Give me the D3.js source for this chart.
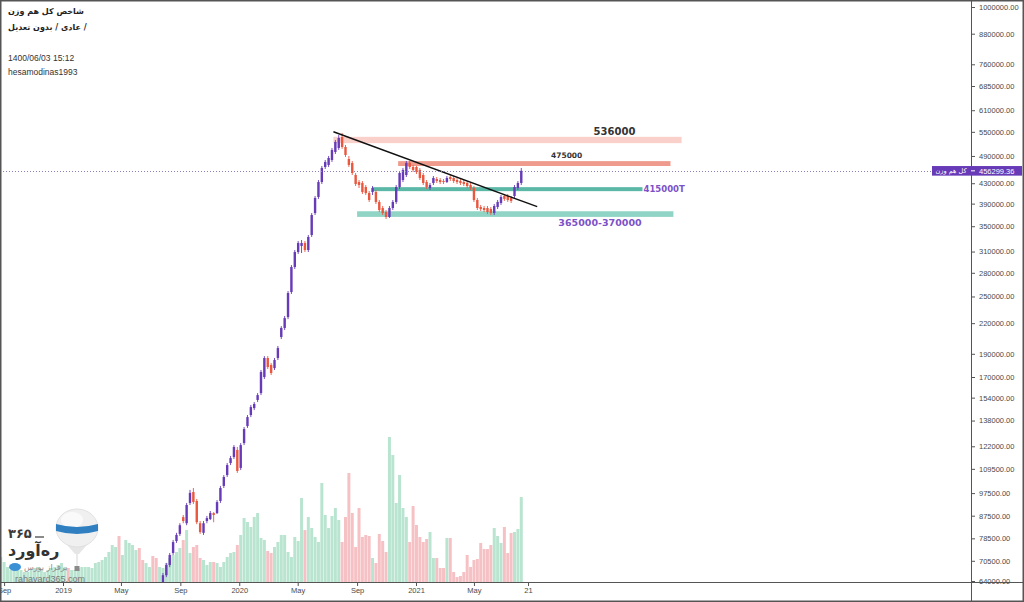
<!DOCTYPE html>
<html>
<head>
<meta charset="utf-8">
<script src="https://cdn.jsdelivr.net/npm/d3@7"></script>
<style>
  body { margin: 0; background: #fff; }
  svg { display: block; }
</style>
</head>
<body>
<div id="chart"></div>
<script>
"use strict";

// weekly candles, in thousand points
var candleStart = "2019-07-27";
var opens = [61.5,65.8,69.1,73.2,77.5,80.2,86.9,84.4,93.0,98.0,93.9,84.4,80.6,85.3,86.1,88.6,88.6,93.9,100.9,106.3,
  112.6,115.9,119.9,110.0,123.9,134.4,141.7,146.5,152.3,157.4,170.0,186.2,180.1,177.4,186.2,205.9,215.0,226.5,255.4,287.9,
  309.3,318.4,323.0,312.3,335.6,372.8,402.6,432.5,464.8,469.3,480.6,499.4,509.1,536.6,511.5,482.9,473.8,447.3,432.5,430.5,
  422.3,410.3,412.3,412.3,393.1,381.9,374.6,365.8,381.9,393.1,422.3,436.7,447.3,473.8,464.8,464.8,458.2,447.3,432.5,420.3,
  430.5,438.8,436.7,434.6,432.5,443.0,440.9,436.7,434.6,432.5,430.5,426.3,420.3,396.8,383.7,381.9,381.9,380.0,372.8,383.7,
  391.2,404.5,404.5,400.7,404.5,420.3,430.5];
var highs = [66.5,69.8,73.2,77.9,80.6,84.4,87.8,93.0,99.0,99.9,94.8,85.3,85.3,87.4,89.5,89.0,94.3,100.9,106.3,112.6,
  116.5,122.7,121.6,123.9,133.8,141.7,148.7,150.8,157.4,175.8,187.9,187.9,181.8,186.2,197.2,216.9,227.7,256.6,290.6,312.3,
  326.1,327.6,326.1,335.6,372.8,404.5,436.7,467.0,480.6,489.9,509.1,528.9,541.8,547.0,516.4,489.9,478.3,451.6,436.7,434.6,
  426.3,414.3,424.3,416.3,396.8,385.6,378.2,385.6,396.8,426.3,456.0,462.6,478.3,478.3,469.3,467.0,462.6,451.6,436.7,430.5,
  445.1,443.0,440.9,438.8,445.1,447.3,445.1,440.9,438.8,436.7,434.6,430.5,424.3,400.7,387.5,385.6,385.6,383.7,389.3,396.8,
  406.4,408.4,408.4,404.5,426.3,434.6,462.6];
var lows = [60.5,65.2,68.4,72.5,76.8,79.4,84.4,83.6,92.1,92.5,84.0,80.2,79.8,84.4,85.7,84.8,88.2,93.0,99.9,105.3,
  111.5,114.8,107.4,108.9,122.7,133.2,140.3,145.1,150.8,155.9,168.4,176.6,171.6,175.8,184.4,203.9,212.9,224.3,253.0,285.2,
  306.4,307.8,309.3,309.3,332.4,369.3,398.8,428.4,460.4,464.8,476.1,494.6,504.2,507.0,487.6,464.8,447.3,424.3,420.3,408.4,
  406.4,393.1,406.4,389.3,374.6,369.3,362.3,364.1,378.2,389.3,418.3,432.5,443.0,460.4,453.8,449.5,436.7,426.3,418.3,416.3,
  426.3,430.5,428.4,428.4,430.5,434.6,430.5,428.4,426.3,424.3,420.3,416.3,393.1,378.2,376.4,374.6,371.0,369.3,369.3,380.0,
  387.5,395.0,393.1,391.2,400.7,416.3,426.3];
var closes = [65.8,69.1,72.5,77.1,79.8,83.6,85.3,92.1,97.6,93.4,84.8,80.9,84.4,86.5,88.6,87.8,93.4,99.9,105.3,111.5,
  115.3,121.6,108.4,122.7,132.5,140.3,147.2,149.4,155.9,174.1,186.2,178.3,173.3,184.4,195.3,215.0,225.4,254.2,287.9,309.3,
  323.0,323.0,312.3,332.4,369.3,400.7,432.5,462.6,476.1,485.3,504.2,523.9,534.0,511.5,492.3,469.3,451.6,428.4,426.3,412.3,
  410.3,396.8,420.3,393.1,378.2,372.8,365.8,381.9,393.1,422.3,451.6,458.2,473.8,464.8,458.2,453.8,440.9,430.5,422.3,426.3,
  440.9,434.6,432.5,432.5,440.9,438.8,434.6,432.5,430.5,428.4,424.3,420.3,396.8,381.9,380.0,378.2,374.6,372.8,385.6,393.1,
  402.6,398.8,396.8,395.0,422.3,430.5,456.3];

// weekly volume (relative units)
var volumeStart = "2018-08-25";
var volumes = [25,20,15,12,12,14,12,10,10,12, 14,15,12,10,12,14,15,17,19,15,
  14,12,12,14,15,15,15,14,19,20, 22,25,30,37,35,46,27,42,39,37,
  32,34,22,19,15,26,24,15,14,19, 24,27,30,34,42,52,29,35,37,24,
  22,17,20,20,19,15,20,25,29,30, 37,47,64,60,55,65,69,44,42,31,
  29,35,40,47,47,30,25,45,41,84, 52,65,54,45,40,99,67,54,66,74,
  62,40,65,109,69,35,74,45,47,46, 24,19,48,41,30,145,127,79,107,74,
  65,40,76,57,45,40,43,50,24,24, 14,14,44,44,10,5,6,10,27,15,
  22,23,39,33,33,37,54,46,39,55, 29,49,50,53,85];
var earlyDownWeeks = [20, 35, 41, 42, 45, 46];

var lastPrice = 456299.36;
var priceTicks = [1000000, 880000, 760000, 685000, 610000, 550000, 490000, 430000, 390000, 350000, 310000,
  280000, 250000, 220000, 190000, 170000, 154000, 138000, 122000, 109500, 97500, 87500, 78500, 70500, 64000];
var timeTicks = ["2018-09-01", "2019-01-01", "2019-05-01", "2019-09-01", "2020-01-01", "2020-05-01",
  "2020-09-01", "2021-01-01", "2021-05-01", "2021-08-21"];
var timeLabels = ["Sep", "2019", "May", "Sep", "2020", "May", "Sep", "2021", "May", "21"];

var bandNames = ["536000", "475000", "415000T", "365000-370000"];
var bandLow = [521000, 467000, 414000, 366000];
var bandHigh = [537000, 478000, 422000, 376000];
var bandFrom = ["2020-07-14", "2020-11-25", "2020-10-02", "2020-09-01"];
var bandTo = ["2022-07-05", "2022-06-12", "2022-04-15", "2022-06-18"];
var bandLabelAt = ["2022-02-16", "2021-11-09", "2022-04-15", "2022-01-17"];
var bandFill = ["#f9d0ca", "#ee9a8c", "#5cb8a6", "#8fd4c5"];

var trendDates = ["2020-07-14", "2021-09-09"];
var trendValues = [550300, 384300];

var width = 1024, height = 602;
var plotRight = 971, plotBottom = 582;
var upColor = "#673ab7", downColor = "#e9573f";
var volUp = "#b9e4d0", volDown = "#f6c1c4";
var axisFont = "'Liberation Sans', Arial, sans-serif";
var faFont = "Tahoma, 'DejaVu Sans', sans-serif";

var parse = d3.utcParse("%Y-%m-%d");

var x = d3.scaleUtc()
  .domain([parse("2019-01-01"), parse("2021-01-01")])
  .range([63, 416]);
var y = d3.scaleLog()
  .domain([64000, 1000000])
  .range([581, 7]);

var c0 = parse(candleStart);
var candles = opens.map(function(o, i) {
  return {
    date: d3.utcDay.offset(c0, 7 * i),
    open: o * 1000, high: highs[i] * 1000, low: lows[i] * 1000, close: closes[i] * 1000
  };
});
var v0 = parse(volumeStart);
var candleOffset = d3.utcDay.count(v0, c0) / 7;
var vols = volumes.map(function(v, i) {
  var c = candles[i - candleOffset];
  var up = c ? c.close >= c.open : earlyDownWeeks.indexOf(i) < 0;
  return { date: d3.utcDay.offset(v0, 7 * i), value: v, up: up };
});
var weekPx = x(d3.utcDay.offset(c0, 7)) - x(c0);

var yv = d3.scaleLinear()
  .domain([0, d3.max(volumes)])
  .range([plotBottom, 437]);

var svg = d3.select("#chart").append("svg")
  .attr("width", width)
  .attr("height", height)
  .attr("viewBox", [0, 0, width, height]);

svg.append("rect").attr("width", width).attr("height", height).attr("fill", "#fff");

svg.append("clipPath").attr("id", "plot")
  .append("rect").attr("x", 0).attr("y", 0).attr("width", plotRight).attr("height", plotBottom);

var plot = svg.append("g").attr("clip-path", "url(#plot)");

// volume
plot.append("g")
  .selectAll("rect")
  .data(vols)
  .join("rect")
  .attr("x", d => x(d.date) - weekPx / 2 + 0.2)
  .attr("width", weekPx - 0.4)
  .attr("y", d => yv(d.value))
  .attr("height", d => plotBottom - yv(d.value))
  .attr("fill", d => d.up ? volUp : volDown);

// logo
var logo = plot.append("g");
logo.append("path")
  .attr("d", "M61,538 L75,554 L79,554 L93,538")
  .attr("fill", "#e6e6e6");
logo.append("ellipse")
  .attr("cx", 77).attr("cy", 528).attr("rx", 21).attr("ry", 19)
  .attr("fill", "#f0f0f0").attr("stroke", "#dcdcdc").attr("stroke-width", 0.8);
logo.append("ellipse")
  .attr("cx", 72).attr("cy", 520).attr("rx", 11).attr("ry", 8)
  .attr("fill", "#fafafa");
logo.append("path")
  .attr("d", "M56,524 Q77,530 98,524 L98,531 Q77,537 56,531 Z")
  .attr("fill", "#2f7fc1");
logo.append("line")
  .attr("x1", 77).attr("y1", 554).attr("x2", 77).attr("y2", 566)
  .attr("stroke", "#bbb").attr("stroke-width", 0.6);
logo.append("rect")
  .attr("x", 74.5).attr("y", 566).attr("width", 5).attr("height", 5)
  .attr("fill", "#8a8a8a");
logo.append("text")
  .attr("x", 8).attr("y", 538)
  .attr("font-family", faFont).attr("font-weight", "bold").attr("font-size", 13)
  .attr("fill", "#3b3b3b")
  .text("۳۶۵");
logo.append("line")
  .attr("x1", 35).attr("y1", 537).attr("x2", 44).attr("y2", 537)
  .attr("stroke", "#3b3b3b").attr("stroke-width", 1.2);
logo.append("text")
  .attr("x", 8).attr("y", 556)
  .attr("font-family", faFont).attr("font-weight", "bold").attr("font-size", 16)
  .attr("fill", "#333")
  .text("ره‌آورد");
logo.append("ellipse")
  .attr("cx", 15).attr("cy", 567).attr("rx", 6).attr("ry", 4)
  .attr("fill", "#3b8fd4");
logo.append("text")
  .attr("x", 24).attr("y", 570)
  .attr("font-family", faFont).attr("font-size", 8)
  .attr("fill", "#888")
  .text("برفراز بورس");
logo.append("text")
  .attr("x", 15).attr("y", 582)
  .attr("font-family", axisFont).attr("font-size", 9)
  .attr("fill", "#7a7a7a")
  .text("rahavard365.com");

// boxes
var bands = bandNames.map(function(n, i) {
  return { name: n, low: bandLow[i], high: bandHigh[i], from: parse(bandFrom[i]), to: parse(bandTo[i]),
    at: parse(bandLabelAt[i]), fill: bandFill[i] };
});
plot.append("g")
  .selectAll("rect")
  .data(bands)
  .join("rect")
  .attr("x", d => x(d.from))
  .attr("width", d => x(d.to) - x(d.from))
  .attr("y", d => y(d.high))
  .attr("height", d => y(d.low) - y(d.high))
  .attr("fill", d => d.fill);

// candles
var candle = plot.append("g")
  .selectAll("g")
  .data(candles)
  .join("g")
  .attr("transform", d => "translate(" + x(d.date) + ",0)");
candle.append("line")
  .attr("y1", d => y(d.high))
  .attr("y2", d => y(d.low))
  .attr("stroke", d => d.close >= d.open ? upColor : downColor)
  .attr("stroke-width", 0.9);
candle.append("rect")
  .attr("x", -1.2)
  .attr("width", 2.4)
  .attr("y", d => y(Math.max(d.open, d.close)))
  .attr("height", d => Math.max(1, Math.abs(y(d.open) - y(d.close))))
  .attr("fill", d => d.close >= d.open ? upColor : downColor);

// trend line
plot.append("line")
  .attr("x1", x(parse(trendDates[0]))).attr("y1", y(trendValues[0]))
  .attr("x2", x(parse(trendDates[1]))).attr("y2", y(trendValues[1]))
  .attr("stroke", "#111").attr("stroke-width", 1.4);

// band labels
var labelFont = "Verdana, 'DejaVu Sans', sans-serif";
plot.append("text")
  .attr("x", x(bands[0].at)).attr("y", y(bands[0].high) - 2)
  .attr("text-anchor", "middle").attr("font-family", labelFont)
  .attr("font-weight", "bold").attr("font-size", 10).attr("fill", "#333")
  .text(bands[0].name);
plot.append("text")
  .attr("x", x(bands[1].at)).attr("y", y(bands[1].high) - 3)
  .attr("text-anchor", "middle").attr("font-family", labelFont)
  .attr("font-weight", "bold").attr("font-size", 7.5).attr("fill", "#333")
  .text(bands[1].name);
plot.append("text")
  .attr("x", x(bands[2].to) + 1).attr("y", (y(bands[2].high) + y(bands[2].low)) / 2 + 3)
  .attr("font-family", labelFont)
  .attr("font-weight", "bold").attr("font-size", 8.5).attr("fill", "#7b52c8")
  .text(bands[2].name);
plot.append("text")
  .attr("x", x(bands[3].at)).attr("y", y(bands[3].low) + 9)
  .attr("text-anchor", "middle").attr("font-family", labelFont)
  .attr("font-weight", "bold").attr("font-size", 9.5).attr("fill", "#7b52c8")
  .text(bands[3].name);

// last price line
svg.append("line")
  .attr("x1", 0).attr("x2", plotRight)
  .attr("y1", Math.round(y(lastPrice)) + 0.5).attr("y2", Math.round(y(lastPrice)) + 0.5)
  .attr("stroke", "#8b80bd").attr("stroke-width", 1).attr("stroke-dasharray", "1,2");

// legend
var legend = svg.append("g").attr("font-family", faFont).attr("fill", "#222");
legend.append("text").attr("x", 8).attr("y", 14)
  .attr("font-size", 8).attr("font-weight", "bold")
  .text("شاخص کل هم وزن");
legend.append("text").attr("x", 8).attr("y", 30)
  .attr("font-size", 8).attr("font-weight", "bold")
  .text("عادی / بدون تعدیل /");
legend.append("text").attr("x", 8).attr("y", 61)
  .attr("font-family", axisFont).attr("font-size", 8.5).attr("fill", "#333")
  .text("1400/06/03 15:12");
legend.append("text").attr("x", 8).attr("y", 75)
  .attr("font-family", axisFont).attr("font-size", 8.5).attr("fill", "#333")
  .text("hesamodinas1993");

// axes
var yAxis = svg.append("g")
  .attr("transform", "translate(" + plotRight + ",0)")
  .call(d3.axisRight(y).tickValues(priceTicks).tickFormat(d3.format(".2f")).tickSize(4).tickPadding(4));
var xAxis = svg.append("g")
  .attr("transform", "translate(0," + plotBottom + ")")
  .call(d3.axisBottom(x).tickValues(timeTicks.map(parse)).tickFormat((d, i) => timeLabels[i]).tickSize(4).tickPadding(2));
[yAxis, xAxis].forEach(function(a) {
  a.select(".domain").remove();
  a.selectAll("line").attr("stroke", "#555");
  a.selectAll("text").attr("font-family", axisFont).attr("font-size", 7.5).attr("fill", "#4a4a4a");
});

svg.append("line")
  .attr("x1", plotRight + 0.5).attr("x2", plotRight + 0.5).attr("y1", 0).attr("y2", height)
  .attr("stroke", "#555");
svg.append("line")
  .attr("x1", 0).attr("x2", width).attr("y1", plotBottom + 0.5).attr("y2", plotBottom + 0.5)
  .attr("stroke", "#555");

// price tag
var py = y(lastPrice);
var tag = svg.append("g");
tag.append("rect")
  .attr("x", 932).attr("y", py - 4.8).attr("width", 90).attr("height", 9.6)
  .attr("fill", upColor);
tag.append("line")
  .attr("x1", plotRight).attr("x2", plotRight + 4).attr("y1", py).attr("y2", py)
  .attr("stroke", "#fff");
tag.append("text")
  .attr("x", 951).attr("y", py + 2.5).attr("text-anchor", "middle")
  .attr("font-family", faFont).attr("font-size", 6.5).attr("fill", "#fff")
  .text("کل هم وزن");
tag.append("text")
  .attr("x", plotRight + 8).attr("y", py + 2.7)
  .attr("font-family", axisFont).attr("font-size", 7.5).attr("fill", "#fff")
  .text(d3.format(".2f")(lastPrice));

svg.append("rect")
  .attr("x", 0.75).attr("y", 0.75).attr("width", width - 1.5).attr("height", height - 1.5)
  .attr("fill", "none").attr("stroke", "#555").attr("stroke-width", 1.5);
</script>
</body>
</html>
